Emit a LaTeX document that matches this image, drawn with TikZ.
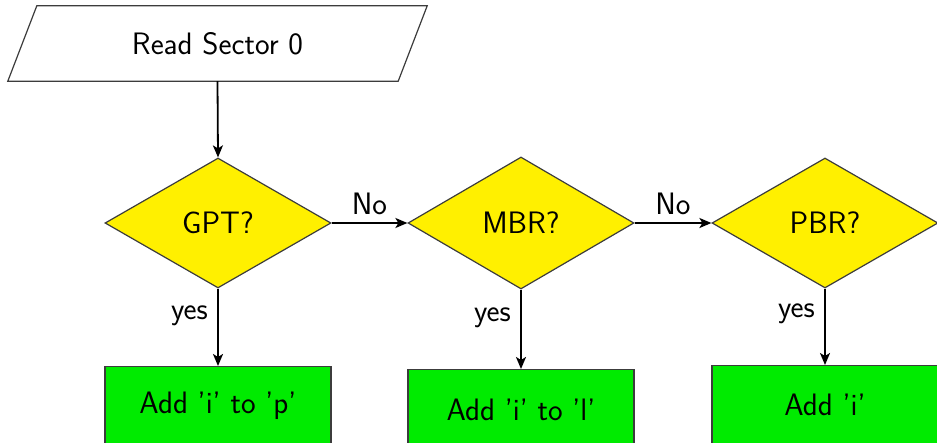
\documentclass[tikz,border=0pt]{standalone}
\usepackage{fontspec}
\usetikzlibrary{shapes.geometric,arrows.meta}
\definecolor{dyellow}{RGB}{255,240,0}
\definecolor{bgreen}{RGB}{0,235,0}
\definecolor{edge}{RGB}{60,60,60}
\tikzset{
  lbl/.style={font=\sffamily\fontsize{31}{36}\selectfont},
  txt/.style={font=\sffamily\fontsize{31}{36}\selectfont},
  decision/.style={diamond, draw=edge, line width=1.2pt, fill=dyellow, minimum width=226pt, minimum height=130pt, inner sep=0pt, txt},
  action/.style={rectangle, draw=edge, line width=1.2pt, fill=bgreen, minimum width=226pt, anchor=north, txt},
  arr/.style={-{Stealth[length=12pt,width=10pt,inset=3pt]}, line width=1.8pt, black},
}
\begin{document}
\begin{tikzpicture}[x=1pt,y=-1pt]
\useasboundingbox (0,0) rectangle (937,442);
% input parallelogram
\node[txt, minimum width=390pt, minimum height=75pt, inner sep=0pt] (read) at (217.5,43.5) {Read Sector 0};
\draw[edge, line width=1.2pt, fill=white] ([xshift=-14.5pt]read.south west) -- ([xshift=-14.5pt]read.south east) -- ([xshift=14.5pt]read.north east) -- ([xshift=14.5pt]read.north west) -- cycle;
\node[txt, inner sep=0pt] at (read.center) {Read Sector 0};
% decisions
\node[decision] (gpt) at (218,223) {GPT?};
\node[decision, minimum height=132pt] (mbr) at (521,223) {MBR?};
\node[decision] (pbr) at (825,223) {PBR?};
% actions
\node[action, minimum height=78pt] (ap) at (218,366) {Add 'i' to 'p'};
\node[action, minimum height=80pt] (al) at (521,369) {Add 'i' to 'l'};
\node[action, minimum height=78pt] (ai) at (825,365) {Add 'i'};
% connectors
\draw[arr] (read.south) -- (gpt.north);
\draw[arr] (gpt.east) -- node[lbl, above, yshift=4pt] {No} (mbr.west);
\draw[arr] (mbr.east) -- node[lbl, above, yshift=4pt] {No} (pbr.west);
\draw[arr] (gpt.south) -- node[lbl, left, xshift=-6pt, pos=0.35] {yes} (ap.north);
\draw[arr] (mbr.south) -- node[lbl, left, xshift=-6pt, pos=0.36] {yes} (al.north);
\draw[arr] (pbr.south) -- node[lbl, left, xshift=-6pt, pos=0.33] {yes} (ai.north);
\end{tikzpicture}
\end{document}
